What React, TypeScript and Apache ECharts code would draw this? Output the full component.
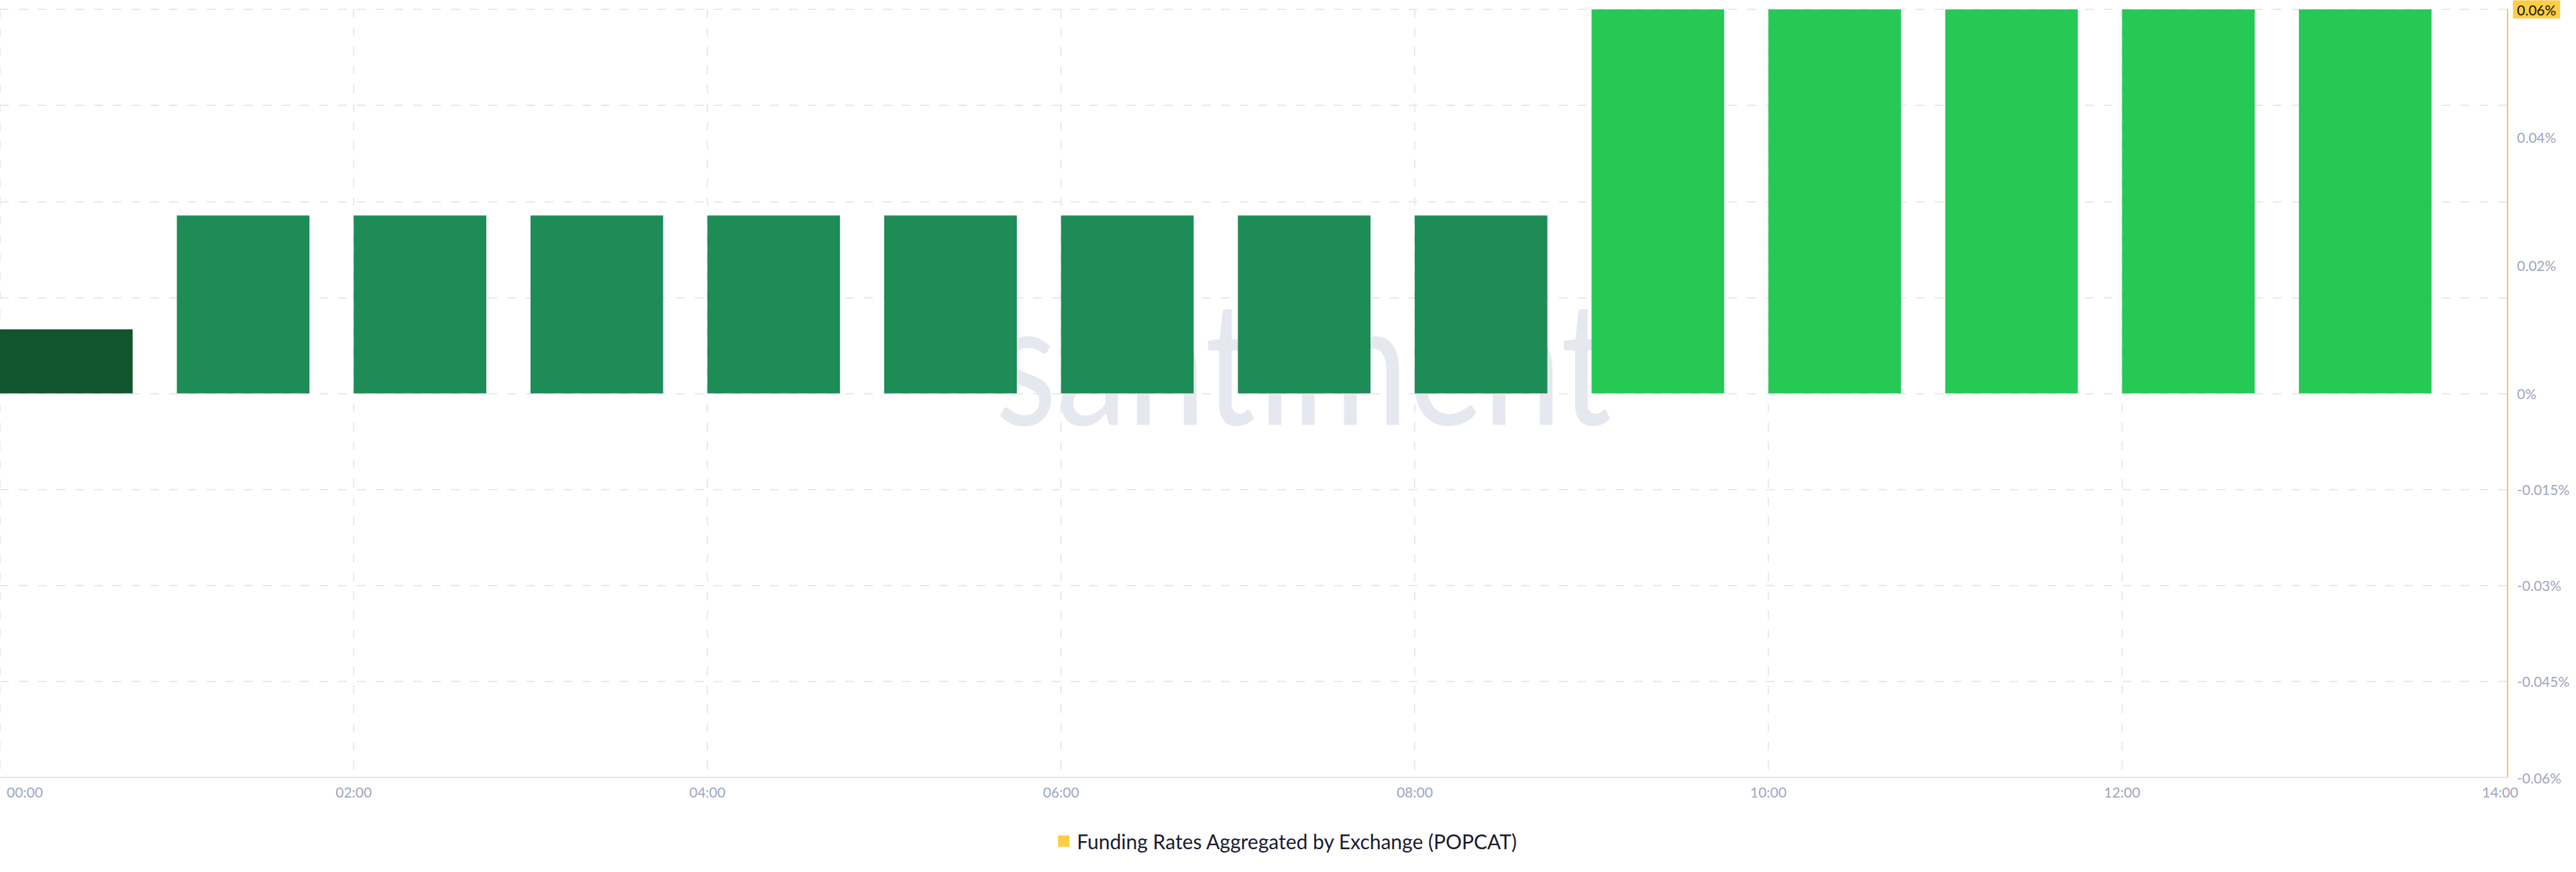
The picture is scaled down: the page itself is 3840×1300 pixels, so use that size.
import React, { useEffect, useRef } from "react";
import * as echarts from "echarts";

// ---- data ----
const hours = [0, 1, 2, 3, 4, 5, 6, 7, 8, 9, 10, 11, 12, 13];
const fundingRates = [
  0.01, 0.0278, 0.0278, 0.0278, 0.0278, 0.0278, 0.0278, 0.0278, 0.0278,
  0.06, 0.06, 0.06, 0.06, 0.06,
];
const xTickHours = [0, 2, 4, 6, 8, 10, 12];
const xEndLabel = "14:00";
const seriesName = "Funding Rates Aggregated by Exchange (POPCAT)";
const watermark = "santiment";

// ---- scale settings ----
const yMin = -0.06;
const yMax = 0.06;
const yGridStep = 0.015;
const yPosLabelStep = 0.02;
const xMax = 14.18;
const barSpanHours = 0.75;

const labelColor = "#a0a5bf";
const gridColor = "#e8e9ef";
const fontFamily = "Lato";
const labelSize = 21;

const fmtPct = (v: number) => `${parseFloat(v.toFixed(4))}%`;
const pad2 = (n: number) => (n < 10 ? `0${n}` : `${n}`);
const near = (a: number, b: number) => Math.abs(a - b) < 1e-7;

const barColor = (v: number) =>
  v >= 0.05 ? "#26c954" : v >= 0.02 ? "#1e8c56" : "#11552f";

export default function App() {
  const ref = useRef<HTMLDivElement>(null);

  useEffect(() => {
    if (!ref.current) return;
    const chart = echarts.init(ref.current, null, { renderer: "svg" });

    const option: any = {
      animation: false,
      backgroundColor: "#ffffff",
      grid: { left: 0, right: 102, top: 14, bottom: 141, containLabel: false },
      legend: {
        show: true,
        top: 1234,
        left: "center",
        itemWidth: 17,
        itemHeight: 17,
        data: [{ name: seriesName, icon: "rect" }],
        textStyle: {
          fontFamily,
          fontSize: 30,
          color: "#1b1b2f",
          padding: [0, 0, 0, 6],
        },
        selectedMode: false,
      },
      graphic: [
        {
          type: "text",
          x: 1943,
          y: 534,
          z: 0,
          silent: true,
          scaleX: 0.82,
          style: {
            text: watermark,
            fontSize: 257,
            fontFamily,
            fontWeight: 400,
            fill: "#e6e8f0",
            align: "center",
            verticalAlign: "middle",
          },
        },
      ],
      xAxis: {
        type: "value",
        min: 0,
        max: xMax,
        interval: 2,
        axisLine: { show: true, onZero: false, lineStyle: { color: "#e6e6ea", width: 2 } },
        axisTick: { show: false },
        splitLine: { show: false },
        axisLabel: {
          show: true,
          margin: 11,
          color: labelColor,
          fontFamily,
          fontSize: labelSize,
          showMinLabel: true,
          showMaxLabel: true,
          alignMinLabel: "left",
          alignMaxLabel: "center",
          formatter: (v: number) => {
            if (near(v, xMax)) return `{end|${xEndLabel}}`;
            const r = Math.round(v);
            if (near(v, r) && xTickHours.includes(r)) {
              const t = `${pad2(r)}:00`;
              return r === 0 ? `{first|${t}}` : t;
            }
            return "";
          },
          rich: {
            first: { padding: [0, 0, 0, 10], color: labelColor, fontFamily, fontSize: labelSize },
            end: { padding: [0, 22, 0, 0], color: labelColor, fontFamily, fontSize: labelSize },
          },
        },
      },
      yAxis: [
        {
          type: "value",
          position: "right",
          min: yMin,
          max: yMax,
          interval: yGridStep,
          axisLine: { show: true, onZero: false, lineStyle: { color: "#f7c948", width: 2 } },
          axisTick: { show: false },
          splitLine: {
            show: true,
            lineStyle: { color: gridColor, width: 2, type: [13, 15] },
          },
          axisLabel: {
            show: true,
            margin: 8,
            color: labelColor,
            fontFamily,
            fontSize: labelSize,
            showMaxLabel: true,
            showMinLabel: true,
            formatter: (v: number) => {
              if (near(v, yMax)) return `{hl|${fmtPct(v)}}`;
              if (v < -1e-9) return `{n|${fmtPct(v)}}`;
              return "";
            },
            rich: {
              hl: {
                backgroundColor: "#ffcd45",
                color: "#111111",
                fontFamily,
                fontSize: labelSize,
                padding: [3, 6, 3, 6],
              },
              n: { color: labelColor, fontFamily, fontSize: labelSize, padding: [0, 0, 0, 6] },
            },
          },
        },
        {
          type: "value",
          position: "right",
          min: yMin,
          max: yMax,
          interval: yPosLabelStep,
          axisLine: { show: false, onZero: false },
          axisTick: { show: false },
          splitLine: { show: false },
          axisLabel: {
            show: true,
            margin: 14,
            color: labelColor,
            fontFamily,
            fontSize: labelSize,
            formatter: (v: number) =>
              v > -1e-9 && v < yMax - 1e-9 ? fmtPct(v) : "",
          },
        },
      ],
      series: [
        {
          type: "custom",
          name: "__vgrid",
          silent: true,
          z: 1,
          xAxisIndex: 0,
          yAxisIndex: 0,
          data: xTickHours.map((h) => [h, 0]),
          encode: { x: 0, y: 1 },
          renderItem: (_p: any, api: any) => {
            const t = api.value(0);
            const a = api.coord([t, yMax]);
            const b = api.coord([t, yMin]);
            return {
              type: "line",
              shape: { x1: a[0], y1: a[1], x2: b[0], y2: b[1] },
              style: { stroke: gridColor, lineWidth: 2, lineDash: [13, 15] },
            };
          },
        },
        {
          type: "custom",
          name: seriesName,
          z: 3,
          xAxisIndex: 0,
          yAxisIndex: 0,
          itemStyle: { color: "#ffcd45" },
          data: hours.map((h, i) => [h, fundingRates[i]]),
          encode: { x: 0, y: 1 },
          renderItem: (_p: any, api: any) => {
            const t = api.value(0);
            const v = api.value(1);
            const p0 = api.coord([t, 0]);
            const p1 = api.coord([t + barSpanHours, v]);
            return {
              type: "rect",
              shape: {
                x: p0[0],
                y: Math.min(p0[1], p1[1]),
                width: p1[0] - p0[0],
                height: Math.abs(p1[1] - p0[1]),
              },
              style: { fill: barColor(v) },
            };
          },
        },
      ],
    };

    chart.setOption(option);
    return () => chart.dispose();
  }, []);

  return (
    <div
      ref={ref}
      style={{ position: "fixed", left: 0, top: 0, width: 3840, height: 1300, background: "#fff" }}
    />
  );
}
